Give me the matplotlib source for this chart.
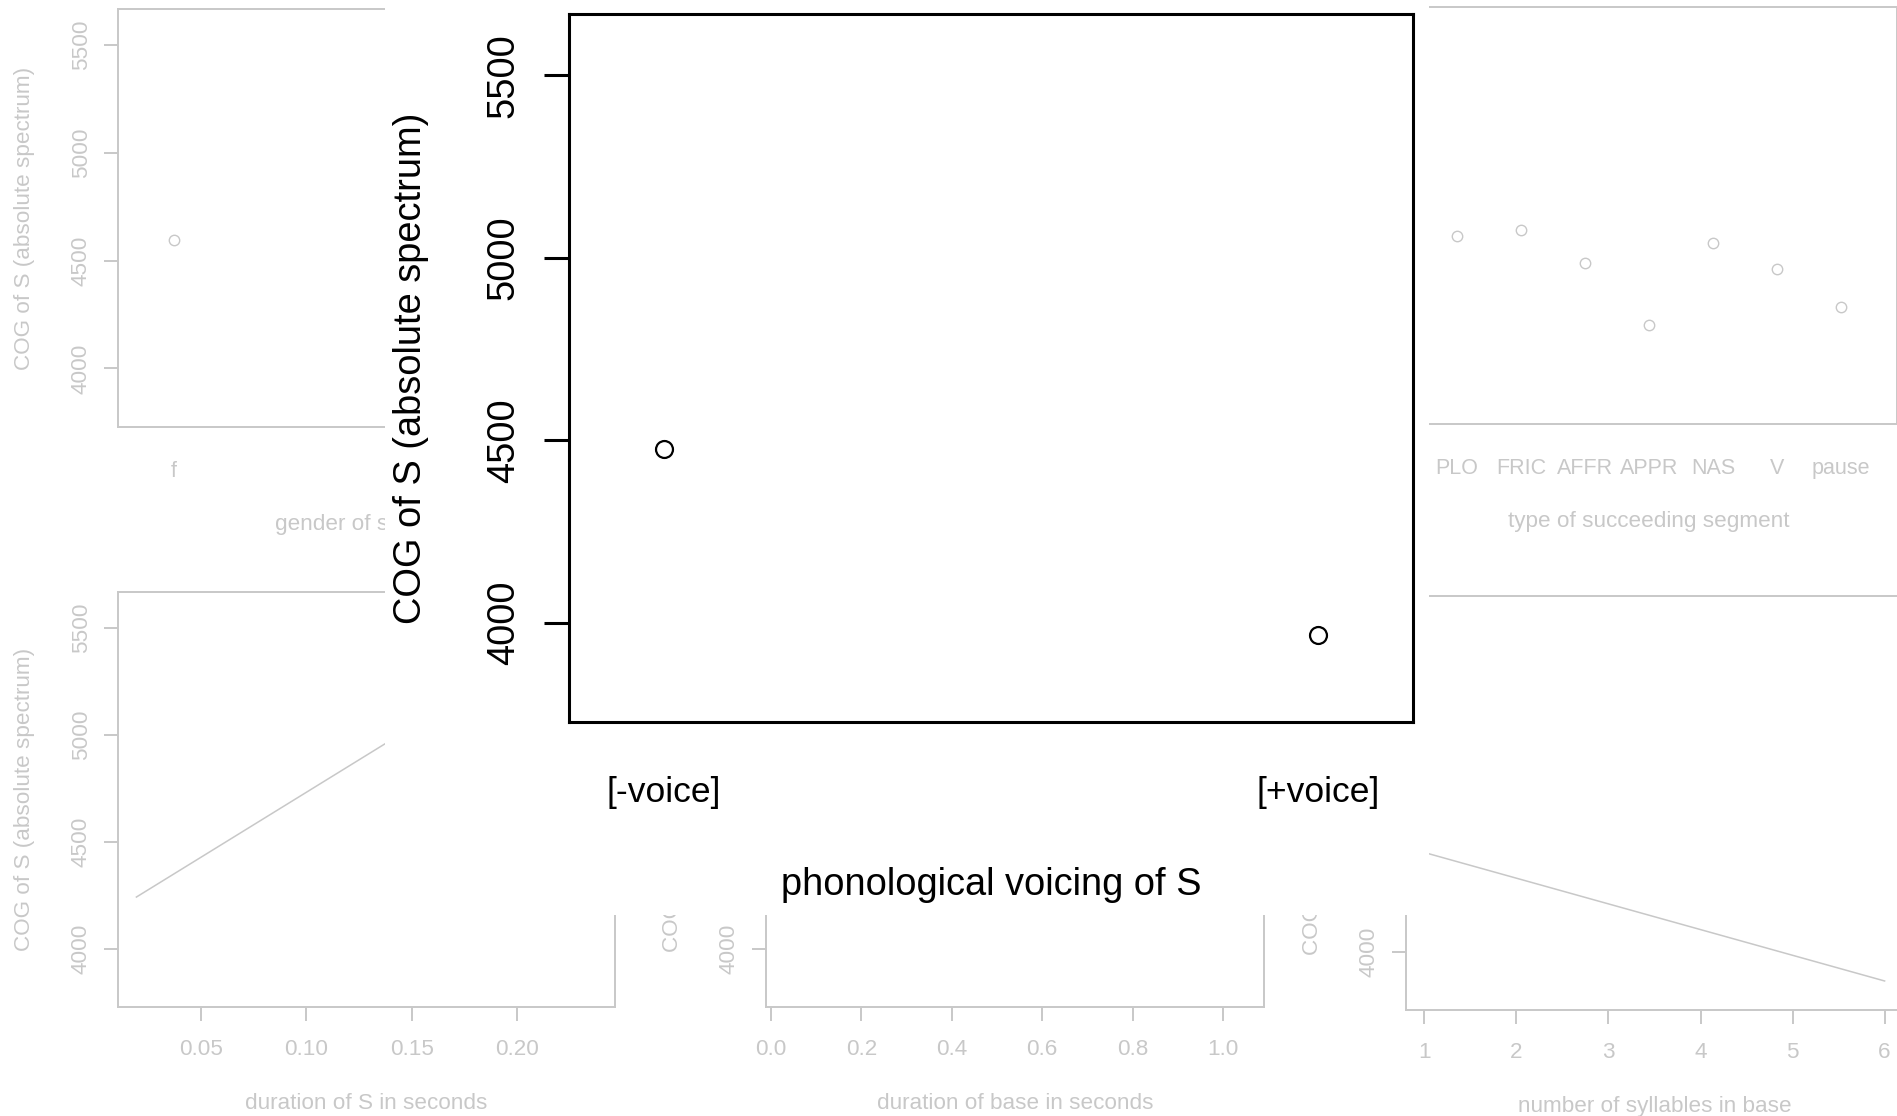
import matplotlib
matplotlib.use("Agg")
import matplotlib.pyplot as plt
from matplotlib.patches import Rectangle

plt.rcParams["font.family"] = ["Liberation Sans", "DejaVu Sans"]

# ---------------- data ----------------
cog_label = "COG of S (absolute spectrum)"
cog_ticks = [4000, 4500, 5000, 5500]
cog_lim = (3728, 5668)

gender_levels = ["f", "m"]
gender_cog = [4598, 4380]

voicing_levels = ["[-voice]", "[+voice]"]
voicing_cog = [4476, 3967]

succ_levels = ["PLO", "FRIC", "AFFR", "APPR", "NAS", "V", "pause"]
succ_cog = [4601, 4630, 4477, 4188, 4570, 4449, 4272]

dur_s = [0.0194, 0.2375]
dur_s_cog = [4242, 5568]
dur_s_ticks = [0.05, 0.10, 0.15, 0.20]
dur_s_ticklabels = ["0.05", "0.10", "0.15", "0.20"]

dur_base = [0.030, 1.050]
dur_base_cog = [4620, 4380]
dur_base_ticks = [0.0, 0.2, 0.4, 0.6, 0.8, 1.0]
dur_base_ticklabels = ["0.0", "0.2", "0.4", "0.6", "0.8", "1.0"]

syllables = [1, 6]
syllables_cog = [4466, 3864]
syllable_ticks = [1, 2, 3, 4, 5, 6]
syllable_ticklabels = ["1", "2", "3", "4", "5", "6"]

# ---------------- layout ----------------
W, H = 1897, 1116
fig = plt.figure(figsize=(W / 100, H / 100), dpi=100)
fig.patch.set_facecolor("white")

GREY = "#c8c8c8"


def add_box(x0, y0, x1, y1, z):
    ax = fig.add_axes([x0 / W, 1 - y1 / H, (x1 - x0) / W, (y1 - y0) / H])
    ax.set_zorder(z)
    return ax


def style(ax, color, lw, fs, ylab_off, xlab_off, ytick_len, ytick_pad):
    w_px = ax.get_position().width * W
    h_px = ax.get_position().height * H
    for s in ax.spines.values():
        s.set_color(color)
        s.set_linewidth(lw)
    ax.set_ylim(*cog_lim)
    ax.set_yticks(cog_ticks)
    ax.set_yticklabels([str(t) for t in cog_ticks])
    ax.tick_params(axis="y", colors=color, labelcolor=color, length=ytick_len,
                   width=lw, pad=ytick_pad, labelsize=fs)
    plt.setp(ax.get_yticklabels(), rotation=90, va="center")
    ax.set_ylabel(cog_label, color=color, fontsize=fs)
    ax.yaxis.set_label_coords(-ylab_off / w_px, 0.5)
    ax.xaxis.set_label_coords(0.5, -xlab_off / h_px)


def factor_panel(ax, levels, values, xlabel, color, lw, fs, xfs, ms, mew,
                 ylab_off, xlab_off, ytick_len, ytick_pad, xpad):
    n = len(levels)
    pos = list(range(1, n + 1))
    ax.plot(pos, values, "o", mfc="none", mec=color, ms=ms, mew=mew,
            clip_on=False)
    ext = 0.145 * (n - 1)
    ax.set_xlim(1 - ext, n + ext)
    ax.set_xticks(pos)
    ax.set_xticklabels(levels)
    ax.tick_params(axis="x", length=0, pad=xpad, labelsize=xfs,
                   labelcolor=color)
    ax.set_xlabel(xlabel, color=color, fontsize=fs)
    style(ax, color, lw, fs, ylab_off, xlab_off, ytick_len, ytick_pad)


def numeric_panel(ax, xs, ys, ticks, ticklabels, xlabel):
    ax.plot(xs, ys, color=GREY, lw=1.1)
    span = xs[-1] - xs[0]
    ax.set_xlim(xs[0] - 0.04 * span, xs[-1] + 0.04 * span)
    ax.set_xticks(ticks)
    ax.set_xticklabels(ticklabels)
    ax.tick_params(axis="x", colors=GREY, labelcolor=GREY, length=10,
                   width=1.4, pad=13, labelsize=16.2)
    ax.set_xlabel(xlabel, color=GREY, fontsize=16.2)
    style(ax, GREY, 1.4, 16.2, 83, 86, 10, 9)


grey_kw = dict(color=GREY, lw=1.4, fs=16.2, xfs=15.5, ms=7.5, mew=1.0,
               ylab_off=83, xlab_off=87, ytick_len=10, ytick_pad=9, xpad=24.5)

# top row of the effect display (middle slot is shown enlarged below)
ax_gender = add_box(118, 9, 615, 427, 1)
factor_panel(ax_gender, gender_levels, gender_cog, "gender of speaker",
             **grey_kw)

ax_succ = add_box(1401, 7, 1897, 424, 1)
factor_panel(ax_succ, succ_levels, succ_cog, "type of succeeding segment",
             **grey_kw)

# bottom row
ax_durs = add_box(118, 592, 615, 1007, 1)
numeric_panel(ax_durs, dur_s, dur_s_cog, dur_s_ticks, dur_s_ticklabels,
              "duration of S in seconds")

ax_durb = add_box(766, 594, 1264, 1007, 1)
numeric_panel(ax_durb, dur_base, dur_base_cog, dur_base_ticks,
              dur_base_ticklabels, "duration of base in seconds")

ax_syl = add_box(1406, 596, 1903, 1010, 1)
numeric_panel(ax_syl, syllables, syllables_cog, syllable_ticks,
              syllable_ticklabels, "number of syllables in base")

# white backdrop for the enlarged voicing panel
fig.add_artist(Rectangle((385 / W, 1 - 915 / H), (1429 - 385) / W, 915 / H,
                         transform=fig.transFigure, facecolor="white",
                         edgecolor="none", zorder=5))

# enlarged voicing panel
ax_voice = add_box(569, 14, 1413, 722, 10)
factor_panel(ax_voice, voicing_levels, voicing_cog,
             "phonological voicing of S", color="black", lw=2.2, fs=27.4,
             xfs=25.5, ms=12.2, mew=1.6, ylab_off=140, xlab_off=145,
             ytick_len=18, ytick_pad=16, xpad=39)

fig.savefig("out.png", dpi=100, facecolor="white")
